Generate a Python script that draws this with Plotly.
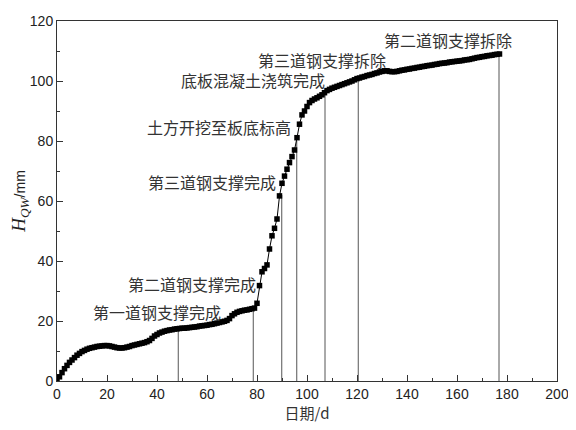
import plotly.graph_objects as go

# settlement readings, one per day from day 0
h_qw = [0.0, 1.4, 2.8, 4.1, 5.2, 6.2, 7.0, 7.8, 8.6, 9.2,
        9.8, 10.2, 10.6, 10.9, 11.1, 11.3, 11.5, 11.6, 11.7, 11.8,
        11.8, 11.7, 11.5, 11.3, 11.1, 11.0, 11.0, 11.1, 11.3, 11.5,
        11.8, 12.0, 12.2, 12.4, 12.6, 12.8, 13.1, 13.5, 14.2, 15.0,
        15.5, 16.0, 16.3, 16.6, 16.8, 17.0, 17.1, 17.3, 17.4, 17.5,
        17.6, 17.6, 17.7, 17.8, 17.9, 18.0, 18.1, 18.3, 18.4, 18.5,
        18.6, 18.8, 18.9, 19.1, 19.3, 19.5, 19.7, 19.9, 20.2, 20.8,
        21.8, 22.4, 22.9, 23.2, 23.4, 23.6, 23.7, 23.9, 24.1, 24.3,
        25.9, 31.8, 36.4, 37.5, 38.7, 44.0, 48.4, 50.9, 54.0, 61.7,
        65.9, 68.3, 70.6, 72.8, 74.8, 77.0, 81.1, 85.6, 88.7, 90.0,
        91.5, 92.8, 93.5, 94.0, 94.4, 94.9, 95.4, 96.1, 96.8, 97.2,
        97.6, 97.9, 98.2, 98.5, 98.8, 99.1, 99.4, 99.7, 100.0, 100.4,
        100.8, 101.0, 101.3, 101.5, 101.8, 102.0, 102.2, 102.5, 102.7, 103.0,
        103.2, 103.4, 103.4, 103.2, 103.1, 103.1, 103.2, 103.4, 103.6, 103.7,
        103.9, 104.0, 104.2, 104.3, 104.5, 104.6, 104.8, 104.9, 105.1, 105.2,
        105.3, 105.5, 105.6, 105.8, 105.9, 106.0, 106.1, 106.3, 106.4, 106.5,
        106.6, 106.7, 106.8, 107.0, 107.1, 107.2, 107.4, 107.6, 107.8, 107.9,
        108.1, 108.2, 108.4, 108.5, 108.6, 108.8, 108.9, 109.0]
days = list(range(len(h_qw)))

# construction stages: day and value at the marker line
stage_days = [48.5, 78.5, 89.9, 95.9, 107.2, 120.5, 176.8]
stage_tops = [17.4, 24.0, 62.0, 80.0, 95.8, 100.8, 108.9]

labels = ["第一道钢支撑完成", "第二道钢支撑完成", "第三道钢支撑完成", "土方开挖至板底标高",
          "底板混凝土浇筑完成", "第三道钢支撑拆除", "第二道钢支撑拆除"]
label_x = [39.9, 54.0, 61.9, 64.9, 78.2, 105.9, 156.2]
label_y = [23.1, 32.2, 66.4, 84.8, 100.3, 107.0, 113.7]

vx, vy = [], []
for d, t in zip(stage_days, stage_tops):
    vx += [d, d, None]
    vy += [0, t, None]

fig = go.Figure()
fig.add_trace(go.Scatter(x=vx, y=vy, mode="lines",
                         line=dict(color="#555555", width=1), hoverinfo="skip"))
fig.add_trace(go.Scatter(x=days, y=h_qw, mode="lines+markers",
                         line=dict(color="black", width=1),
                         marker=dict(symbol="square", size=5.5, color="black")))

for txt, x, y in zip(labels, label_x, label_y):
    fig.add_annotation(x=x, y=y, text=txt, showarrow=False,
                       font=dict(family="Noto Sans CJK SC", size=16, color="#333333"))

axis_common = dict(showline=True, linecolor="#333333", linewidth=1, mirror=True, automargin=False,
                   ticks="inside", ticklen=6, tickcolor="#333333", showgrid=False, zeroline=False,
                   tickfont=dict(family="Liberation Sans", size=14, color="#222222"),
                   minor=dict(ticks="inside", ticklen=3, tickcolor="#333333"))

fig.update_xaxes(range=[0, 200], dtick=20, tick0=0, minor_dtick=10,
                 title=dict(text="日期/d", standoff=2,
                            font=dict(family="Noto Sans CJK SC", size=15, color="#333333")),
                 **axis_common)
fig.update_yaxes(range=[0, 120], dtick=20, tick0=0, minor_dtick=10,
                 title=dict(text="<span style='font-family:Liberation Serif;font-style:italic;font-size:19px'>H<sub>QW</sub></span>"
                                 "<span style='font-size:14px'>/mm</span>",
                            standoff=8,
                            font=dict(family="Liberation Sans", size=16, color="#222222")),
                 **axis_common)

# the page body adds an 8px offset, so the figure is sized and padded to land on the reference frame
fig.update_layout(width=568, height=422, showlegend=False,
                  plot_bgcolor="white", paper_bgcolor="white",
                  margin=dict(l=49, r=19, t=13, b=49))

fig.write_html("out.html")
